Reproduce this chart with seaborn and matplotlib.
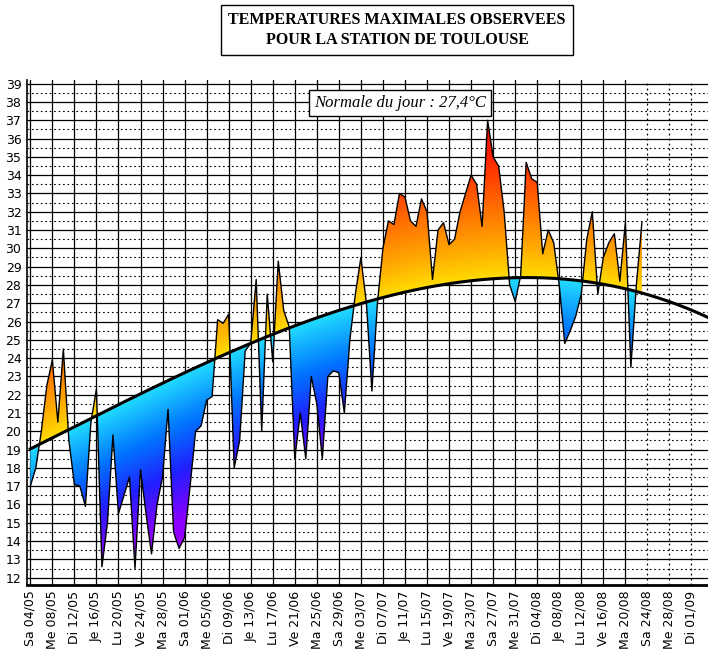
import numpy as np
import pandas as pd
import matplotlib
matplotlib.use("Agg")
import matplotlib.pyplot as plt
import seaborn as sns
from matplotlib.colors import LinearSegmentedColormap
from matplotlib.patches import Polygon

tmax = [17.0, 18.0, 20.0, 22.5, 23.9, 20.5, 24.5, 19.5, 17.1, 17.0,
        15.9, 20.5, 22.3, 12.6, 15.0, 19.8, 15.5, 16.5, 17.5, 12.5,
        17.9, 15.5, 13.3, 16.0, 17.5, 21.2, 14.5, 13.6, 14.2, 17.0,
        20.0, 20.3, 21.7, 21.9, 26.1, 25.9, 26.4, 18.0, 19.5, 24.4,
        24.8, 28.3, 20.0, 27.5, 23.8, 29.3, 26.6, 25.7, 18.5, 21.0,
        18.5, 23.0, 21.5, 18.5, 23.0, 23.3, 23.2, 21.0, 25.0, 27.5,
        29.5, 27.0, 22.2, 27.0, 30.0, 31.5, 31.3, 33.0, 32.8, 31.5,
        31.2, 32.7, 32.0, 28.3, 31.0, 31.4, 30.2, 30.5, 32.0, 33.0,
        34.0, 33.5, 31.2, 37.0, 35.0, 34.5, 32.0, 28.0, 27.1, 28.5,
        34.7, 33.8, 33.6, 29.7, 31.0, 30.3, 28.0, 24.8, 25.5, 26.3,
        27.5, 30.5, 32.0, 27.5, 29.5, 30.3, 30.8, 28.2, 31.4, 23.5,
        28.0, 31.4]
normal_days = [0, 8, 16, 24, 32, 40, 48, 56, 64, 72, 80, 88, 96, 104, 112, 120, 123]
normal_vals = [19.0, 20.3, 21.5, 22.6, 23.7, 24.8, 25.8, 26.6, 27.3, 27.9,
               28.2, 28.4, 28.4, 28.0, 27.4, 26.7, 26.2]
tick_labels = ["Sa 04/05", "Me 08/05", "Di 12/05", "Je 16/05", "Lu 20/05", "Ve 24/05",
               "Ma 28/05", "Sa 01/06", "Me 05/06", "Di 09/06", "Je 13/06", "Lu 17/06",
               "Ve 21/06", "Ma 25/06", "Sa 29/06", "Me 03/07", "Di 07/07", "Je 11/07",
               "Lu 15/07", "Ve 19/07", "Ma 23/07", "Sa 27/07", "Me 31/07", "Di 04/08",
               "Je 08/08", "Lu 12/08", "Ve 16/08", "Ma 20/08", "Sa 24/08", "Me 28/08",
               "Di 01/09"]

days = np.arange(len(tmax))
tmax_a = np.array(tmax)
nd = np.linspace(0, 123, 600)
coef = np.polyfit(normal_days, normal_vals, 3)
ncurve = np.polyval(coef, nd)
norm_at = np.polyval(coef, days)

fig = plt.figure(figsize=(7.08, 6.57), dpi=100)
ax = fig.add_axes([27/708, 1-585/657, 1-27/708, (585-80)/657])
xlo, xhi, ylo, yhi = -0.6, 123, 11.6, 39.2
ax.set_xlim(xlo, xhi); ax.set_ylim(ylo, yhi)

X = np.linspace(0, days[-1], 800)
Y = np.linspace(ylo, yhi, 600)
XX, YY = np.meshgrid(X, Y)
anom = YY - np.polyval(coef, XX)
cmap = LinearSegmentedColormap.from_list("an", [
    (0.0, "#aa00ff"), (0.12, "#8a00ff"), (0.25, "#2020ff"), (0.37, "#0077ff"),
    (0.5, "#22ddff"),
    (0.5001, "#ffdd00"), (0.58, "#ffaa00"), (0.7, "#ff6600"), (0.82, "#ff2200"), (1.0, "#cc0000")])
im = ax.imshow(anom, extent=[0, days[-1], ylo, yhi], origin="lower", aspect="auto",
               cmap=cmap, vmin=-10.5, vmax=10.5, zorder=2)
verts = list(zip(days, tmax_a)) + list(zip(days[::-1], norm_at[::-1]))
poly = Polygon(verts, closed=True, facecolor="none", edgecolor="none")
ax.add_patch(poly)
im.set_clip_path(poly)

for v in range(12, 40):
    ax.axhline(v, color="black", lw=0.9, zorder=1)
    ax.axhline(v + 0.5, color="black", lw=0.8, ls=(0, (1.5, 2.5)), zorder=1)
for i in range(len(tick_labels)):
    d = 4 * i
    ax.axvline(d, color="black", lw=0.9, ls="-" if d <= 108 else (0, (1.5, 2.5)), zorder=1)

df = pd.DataFrame({"d": days, "t": tmax_a})
sns.lineplot(data=df, x="d", y="t", color="black", lw=1.0, ax=ax, zorder=3)
sns.lineplot(x=nd, y=ncurve, color="black", lw=2.2, ax=ax, zorder=4)

ax.set_yticks(range(12, 40))
ax.set_yticklabels([str(v) for v in range(12, 40)], fontsize=9)
ax.set_xticks([4 * i for i in range(len(tick_labels))])
ax.set_xticklabels(tick_labels, rotation=90, fontsize=9)
ax.tick_params(length=0, pad=4)
ax.set_xlabel(""); ax.set_ylabel("")
for s in ["top", "right"]:
    ax.spines[s].set_visible(False)
ax.spines["bottom"].set_linewidth(2)
ax.spines["left"].set_linewidth(1.2)

fig.text(397/708, 1-30/657, "TEMPERATURES MAXIMALES OBSERVEES\nPOUR LA STATION DE TOULOUSE",
         ha="center", va="center", fontsize=11.5, fontweight="bold", family="Liberation Serif",
         linespacing=1.25,
         bbox=dict(boxstyle="square,pad=0.45", fc="white", ec="black", lw=1))
fig.text(400/708, 1-103/657, "Normale du jour : 27,4°C", ha="center", va="center",
         fontsize=12, style="italic", family="Liberation Serif",
         bbox=dict(boxstyle="square,pad=0.3", fc="white", ec="black", lw=1))
fig.savefig("out.png", dpi=100)
